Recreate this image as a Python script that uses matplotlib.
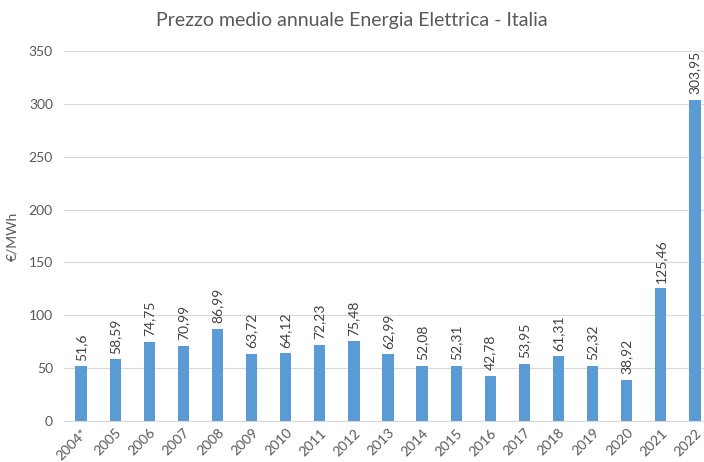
import matplotlib
matplotlib.use("Agg")
import matplotlib.pyplot as plt

years = ['2004*', '2005', '2006', '2007', '2008', '2009', '2010', '2011', '2012', '2013',
         '2014', '2015', '2016', '2017', '2018', '2019', '2020', '2021', '2022']
prices = [51.6, 58.59, 74.75, 70.99, 86.99, 63.72, 64.12, 72.23, 75.48, 62.99,
          52.08, 52.31, 42.78, 53.95, 61.31, 52.32, 38.92, 125.46, 303.95]
labels = ['51,6', '58,59', '74,75', '70,99', '86,99', '63,72', '64,12', '72,23', '75,48', '62,99',
          '52,08', '52,31', '42,78', '53,95', '61,31', '52,32', '38,92', '125,46', '303,95']

plt.rcParams['font.family'] = ['Lato', 'DejaVu Sans']
grey = '#595959'

fig = plt.figure(figsize=(7.04, 4.62), dpi=100)
ax = fig.add_axes([64 / 704, 41 / 462, 648 / 704, 370 / 462])

x = list(range(len(years)))
ax.bar(x, prices, width=0.33, color='#5B9BD5', zorder=3)

for xi, v, lab in zip(x, prices, labels):
    ax.annotate(lab, (xi, v), xytext=(0, 4), textcoords='offset points',
                rotation=90, ha='center', va='bottom', fontsize=10, color='#404040')

ax.set_xlim(-0.5, len(years) - 0.5)
ax.set_ylim(0, 350)
ax.set_yticks(range(0, 351, 50))
ax.set_xticks(x)
ax.set_xticklabels(years, rotation=45, ha='right', rotation_mode='anchor')
ax.tick_params(axis='both', length=0, colors=grey, labelsize=10)
ax.tick_params(axis='y', pad=8)
ax.tick_params(axis='x', pad=4)

ax.grid(axis='y', color='#D9D9D9', linewidth=0.8, zorder=0)
for s in ['top', 'right', 'left']:
    ax.spines[s].set_visible(False)
ax.spines['bottom'].set_color('#D9D9D9')

ax.set_ylabel('€/MWh', color=grey, fontsize=10, labelpad=0)
ax.yaxis.set_label_coords(-18 / 648 * 0 - (64 - 18) / 648, 0.5)
fig.text(0.5, 0.955, 'Prezzo medio annuale Energia Elettrica - Italia',
         ha='center', va='center', fontsize=14, color=grey)

fig.savefig('out.png', dpi=100)
